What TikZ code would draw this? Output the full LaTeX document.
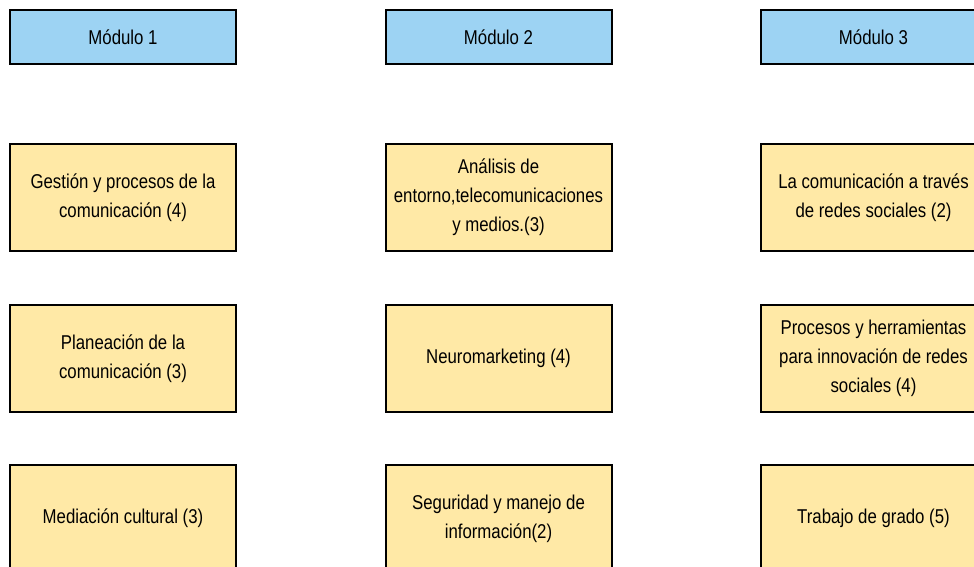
\documentclass[tikz,border=0pt]{standalone}
\usepackage{fontspec}
\setmainfont{Liberation Sans}[FakeStretch=0.84]
\usetikzlibrary{positioning}
\definecolor{modblue}{HTML}{9DD3F3}
\definecolor{modyellow}{HTML}{FFE9A6}

\begin{document}
\begin{tikzpicture}[x=1pt,y=-1pt,
    modbox/.style={draw=black,line width=2pt,fill=modblue,minimum width=226pt,minimum height=54pt,inner sep=0pt,font=\fontsize{20}{29}\selectfont},
    subbox/.style={draw=black,line width=2pt,fill=modyellow,minimum width=226pt,minimum height=107pt,inner sep=0pt,align=center,font=\fontsize{20}{29}\selectfont}]
        \useasboundingbox (0,0) rectangle (974,567);
        \clip (0,0) rectangle (974,567);
        % headers
        \node[modbox] (m1) at (123,37) {Módulo 1};
        \node[modbox] (m2) at (498.5,37) {Módulo 2};
        \node[modbox] (m3) at (873.5,37) {Módulo 3};
        % module 1
        \node[subbox] (a1) at (123,197.5) {Gestión y procesos de la\\comunicación (4)};
        \node[subbox] (a2) at (123,358.5) {Planeación de la\\comunicación (3)};
        \node[subbox] (a3) at (123,518.5) {Mediación cultural (3)};
        % module 2
        \node[subbox] (b1) at (498.5,197.5) {Análisis de\\entorno,telecomunicaciones\\y medios.(3)};
        \node[subbox] (b2) at (498.5,358.5) {Neuromarketing (4)};
        \node[subbox] (b3) at (498.5,518.5) {Seguridad y manejo de\\información(2)};
        % module 3
        \node[subbox] (c1) at (873.5,197.5) {La comunicación a través\\de redes sociales (2)};
        \node[subbox] (c2) at (873.5,358.5) {Procesos y herramientas\\para innovación de redes\\sociales (4)};
        \node[subbox] (c3) at (873.5,518.5) {Trabajo de grado (5)};
    \end{tikzpicture}
\end{document}
